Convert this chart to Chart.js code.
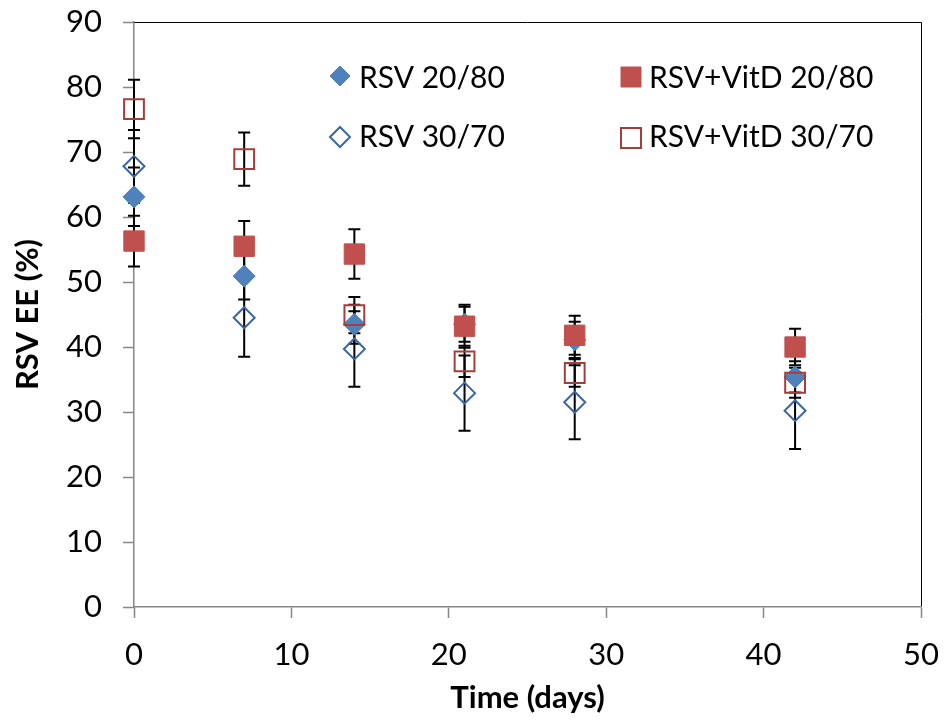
<!DOCTYPE html>
<html>
<head>
<meta charset="utf-8">
<title>RSV EE over time</title>
<script src="https://cdn.jsdelivr.net/npm/chart.js@4.4.1/dist/chart.umd.min.js"></script>
<style>
  body { margin: 0; background: #fff; }
  #wrap { width: 945px; height: 728px; }
</style>
</head>
<body>
<div id="wrap"><canvas id="chart" width="945" height="728"></canvas></div>
<script>
// time points (days)
const days = [0, 7, 14, 21, 28, 42];

// RSV EE (%) per formulation, with +/- error
const rsv2080 = [63.1, 50.9, 43.5, 43.5, 41.1, 35.4];
const rsv2080Err = [4.5, 3.6, 3.0, 2.7, 2.8, 2.4];
const rsv3070 = [67.8, 44.5, 39.7, 32.9, 31.5, 30.2];
const rsv3070Err = [5.6, 6.0, 5.8, 5.8, 5.7, 5.9];
const vitd2080 = [56.3, 55.5, 54.3, 43.2, 41.8, 40.0];
const vitd2080Err = [3.9, 3.9, 3.8, 3.3, 3.0, 2.8];
const vitd3070 = [76.6, 68.9, 44.9, 37.8, 36.0, 34.5];
const vitd3070Err = [4.5, 4.1, 2.8, 2.4, 2.1, 2.3];

const seriesLabels = ['RSV 20/80', 'RSV+VitD 20/80', 'RSV 30/70', 'RSV+VitD 30/70'];

const FONT = 'Lato, "Open Sans", sans-serif';
const axisGray = '#868686';

function toPoints(ys, errs) {
	return days.map(function (d, i) {
		return { x: d, y: ys[i], err: errs[i] };
	});
}

// error bars, drawn behind the markers
const errorBars = {
	id: 'errorBars',
	beforeDatasetsDraw(chart) {
		const ctx = chart.ctx;
		const xs = chart.scales.x;
		const ys = chart.scales.y;
		ctx.save();
		ctx.strokeStyle = '#000';
		ctx.lineWidth = 2;
		chart.data.datasets.forEach(function (ds) {
			ds.data.forEach(function (p) {
				const px = xs.getPixelForValue(p.x);
				const top = ys.getPixelForValue(p.y + p.err);
				const bot = ys.getPixelForValue(p.y - p.err);
				ctx.beginPath();
				ctx.moveTo(px, top); ctx.lineTo(px, bot);
				ctx.moveTo(px - 6, top); ctx.lineTo(px + 6, top);
				ctx.moveTo(px - 6, bot); ctx.lineTo(px + 6, bot);
				ctx.stroke();
			});
		});
		ctx.restore();
	}
};

// black top/right frame of the plot area
const plotFrame = {
	id: 'plotFrame',
	beforeDraw(chart) {
		const a = chart.chartArea;
		const ctx = chart.ctx;
		ctx.save();
		ctx.strokeStyle = '#000';
		ctx.lineWidth = 1;
		ctx.beginPath();
		ctx.moveTo(a.left, a.top + 0.5);
		ctx.lineTo(a.right + 0.5, a.top + 0.5);
		ctx.lineTo(a.right + 0.5, a.bottom);
		ctx.stroke();
		ctx.restore();
	}
};

// two-column legend inside the plot
const innerLegend = {
	id: 'innerLegend',
	afterDraw(chart) {
		const ctx = chart.ctx;
		const items = [
			{ ds: 0, mx: 340, my: 76, tx: 359, base: 87.5 },
			{ ds: 1, mx: 631, my: 77, tx: 649, base: 87.5 },
			{ ds: 2, mx: 340, my: 137, tx: 359, base: 147 },
			{ ds: 3, mx: 631, my: 138, tx: 649, base: 147 }
		];
		ctx.save();
		items.forEach(function (it) {
			const ds = chart.data.datasets[it.ds];
			ctx.beginPath();
			if (ds.pointStyle === 'rectRot') {
				const r = 10;
				ctx.moveTo(it.mx - r, it.my);
				ctx.lineTo(it.mx, it.my - r);
				ctx.lineTo(it.mx + r, it.my);
				ctx.lineTo(it.mx, it.my + r);
				ctx.closePath();
			} else {
				ctx.rect(it.mx - 10, it.my - 10, 20, 20);
			}
			if (ds.backgroundColor !== 'transparent') {
				ctx.fillStyle = ds.backgroundColor;
				ctx.fill();
			}
			ctx.strokeStyle = ds.borderColor;
			ctx.lineWidth = ds.borderWidth;
			ctx.stroke();
			ctx.fillStyle = '#000';
			ctx.font = '30px ' + FONT;
			ctx.textBaseline = 'alphabetic';
			ctx.textAlign = 'left';
			ctx.fillText(ds.label, it.tx, it.base);
		});
		ctx.restore();
	}
};

const ctx = document.getElementById('chart').getContext('2d');
const chart = new Chart(ctx, {
	type: 'scatter',
	data: {
		datasets: [{
			label: seriesLabels[0],
			data: toPoints(rsv2080, rsv2080Err),
			pointStyle: 'rectRot',
			pointRadius: 11,
			backgroundColor: '#4F81BD',
			borderColor: '#4A7EBB',
			borderWidth: 1,
			order: 3,
			clip: false
		}, {
			label: seriesLabels[1],
			data: toPoints(vitd2080, vitd2080Err),
			pointStyle: 'rect',
			pointRadius: 14.4,
			backgroundColor: '#C0504D',
			borderColor: '#C0504D',
			borderWidth: 1,
			order: 1,
			clip: false
		}, {
			label: seriesLabels[2],
			data: toPoints(rsv3070, rsv3070Err),
			pointStyle: 'rectRot',
			pointRadius: 10.5,
			backgroundColor: 'transparent',
			borderColor: '#3A67A3',
			borderWidth: 2,
			order: 2,
			clip: false
		}, {
			label: seriesLabels[3],
			data: toPoints(vitd3070, vitd3070Err),
			pointStyle: 'rect',
			pointRadius: 14,
			backgroundColor: 'transparent',
			borderColor: '#A53E3B',
			borderWidth: 2,
			order: 0,
			clip: false
		}]
	},
	options: {
		responsive: false,
		animation: false,
		layout: { padding: { left: 0, top: 22, right: 24, bottom: 0 } },
		plugins: {
			legend: { display: false },
			tooltip: { enabled: false }
		},
		scales: {
			x: {
				type: 'linear',
				min: 0,
				max: 50,
				afterFit: function (scale) {
					scale.height = 121;
					scale.paddingLeft = 0;
					scale.paddingRight = 0;
				},
				ticks: {
					stepSize: 10,
					padding: 18,
					color: '#000',
					font: { family: FONT, size: 31 }
				},
				grid: {
					drawOnChartArea: false,
					drawTicks: true,
					tickLength: 11,
					tickColor: axisGray,
					tickWidth: 1.5
				},
				border: { color: axisGray, width: 1.5 },
				title: {
					display: true,
					text: 'Time (days)',
					color: '#000',
					padding: { top: 0, bottom: 11 },
					font: { family: FONT, size: 31, weight: 'bold' }
				}
			},
			y: {
				type: 'linear',
				min: 0,
				max: 90,
				afterFit: function (scale) {
					scale.width = 134;
					scale.paddingTop = 0;
					scale.paddingBottom = 0;
				},
				ticks: {
					stepSize: 10,
					padding: 21,
					color: '#000',
					font: { family: FONT, size: 31 }
				},
				grid: {
					drawOnChartArea: false,
					drawTicks: true,
					tickLength: 11,
					tickColor: axisGray,
					tickWidth: 1.5
				},
				border: { color: axisGray, width: 1.5 },
				title: {
					display: true,
					text: 'RSV EE (%)',
					color: '#000',
					padding: { top: 9, bottom: 0 },
					font: { family: FONT, size: 31, weight: 'bold' }
				}
			}
		}
	},
	plugins: [plotFrame, errorBars, innerLegend]
});
</script>
</body>
</html>
